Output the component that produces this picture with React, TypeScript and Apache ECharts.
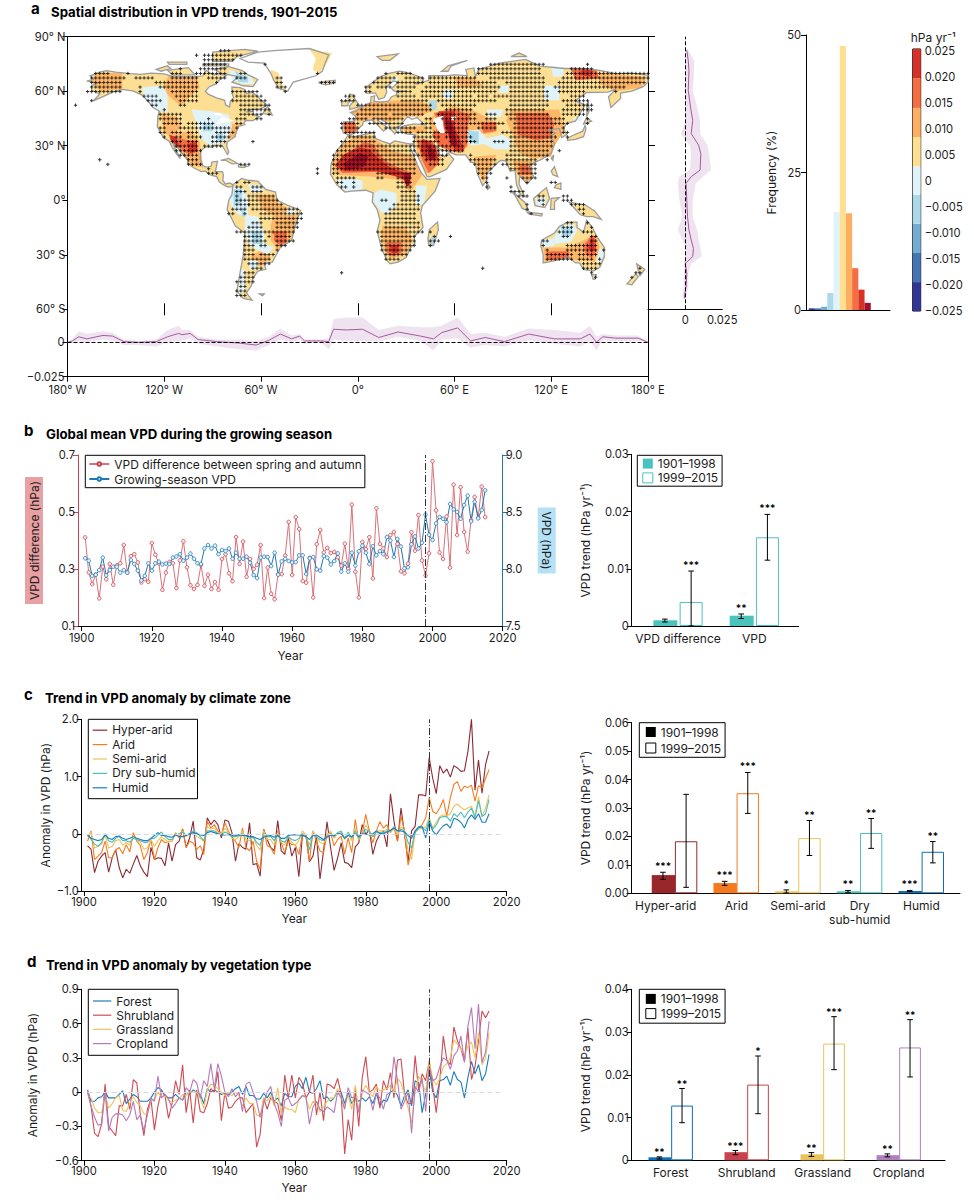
import React, { useEffect, useRef } from "react";
import * as echarts from "echarts";

const F = "Inter, 'Noto Sans', sans-serif";
const INK = "#1c1c1c";
const M = "\u2212";

/* ---------- panel b ---------- */
const vpdDifference = [
  0.411,0.288,0.247,0.28,0.197,0.308,0.264,0.318,0.245,0.313,
  0.32,0.384,0.287,0.345,0.352,0.323,0.253,0.264,0.255,0.391,
  0.35,0.32,0.227,0.287,0.325,0.32,0.233,0.33,0.397,0.306,
  0.243,0.23,0.244,0.314,0.241,0.28,0.23,0.254,0.227,0.335,
  0.352,0.285,0.257,0.412,0.318,0.396,0.273,0.335,0.3,0.315,
  0.384,0.198,0.305,0.213,0.194,0.282,0.282,0.347,0.465,0.279,
  0.482,0.44,0.258,0.252,0.339,0.2,0.387,0.437,0.358,0.374,
  0.356,0.36,0.341,0.312,0.389,0.3,0.526,0.29,0.2,0.395,
  0.37,0.412,0.267,0.513,0.388,0.372,0.342,0.419,0.43,0.388,
  0.292,0.285,0.319,0.429,0.364,0.489,0.33,0.277,0.355,0.678,
  0.506,0.358,0.335,0.484,0.305,0.596,0.419,0.587,0.43,0.361,
  0.472,0.553,0.48,0.589,0.482,
];
const growingSeasonVpd = [
  8.094,8.073,7.94,7.95,7.99,8.1,7.944,7.99,8.02,8.02,
  7.968,7.99,7.968,8.08,8.044,7.985,7.9,7.94,8.05,7.985,
  8.05,8.064,8.04,8.047,8.044,8.1,8.11,8.13,8.073,8.1,
  8.135,8.09,8.05,8.044,8.18,8.21,8.18,8.205,8.13,8.167,
  8.157,8.18,8.09,8.143,8.09,8.09,8.108,8.055,7.947,7.92,
  8.1,8.108,8.105,8.026,8.143,7.95,8.067,8.09,8.07,8.058,
  8.06,8.12,8.12,7.956,8.094,8.105,7.997,7.985,8.114,8.1,
  8.04,8.07,8.137,7.977,8.05,7.977,8.143,8.03,8.155,8.205,
  8.143,8.044,8.2,8.12,8.157,8.13,8.28,8.25,8.105,8.263,
  8.196,8.006,8.015,8.216,8.286,8.18,8.23,8.477,8.3,8.254,
  8.4,8.456,8.44,8.41,8.57,8.523,8.5,8.44,8.56,8.643,
  8.418,8.59,8.444,8.518,8.69,
];

/* ---------- panel c ---------- */
const hyperArid = [
  -0.21,-0.27,-0.68,-0.48,-0.39,-0.33,-0.67,-0.42,-0.28,-0.59,
  -0.77,-0.62,-0.69,-0.53,-0.38,-0.56,-0.67,-0.75,-0.24,-0.45,
  -0.42,-0.43,-0.56,-0.16,-0.48,-0.19,-0.13,0.08,-0.24,-0.07,
  0.22,-0.42,-0.46,-0.27,0.28,0.16,0.24,0.16,-0.07,0.24,
  0.22,0.02,-0.48,-0.17,-0.24,-0.27,0.19,-0.54,-0.52,-0.74,
  0.08,-0.1,-0.24,-0.3,0.23,-0.3,-0.36,-0.07,-0.39,-0.24,
  -0.75,-0.04,-0.01,-0.49,-0.39,-0.04,-0.79,-0.3,0.21,-0.24,
  -0.64,-0.42,-0.16,-0.5,-0.52,-0.59,-0.23,-0.16,0.16,-0.01,
  0.08,-0.36,-0.13,-0.01,0.05,-0.23,0.7,0.22,-0.13,0.45,
  -0.01,-0.48,0.05,0.13,0.68,0.68,0.66,1.33,0.97,0.7,
  1.19,1.06,1.13,0.99,1.19,1.15,1.09,1.1,1.44,2.0,
  0.76,1.29,0.71,1.21,1.45,
];
const arid = [
  -0.13,0.05,-0.45,-0.39,-0.33,-0.13,-0.42,-0.42,-0.28,-0.24,
  -0.35,-0.19,-0.32,0.02,-0.13,-0.21,-0.45,-0.33,-0.1,-0.45,
  -0.24,-0.1,-0.16,-0.13,-0.13,0.02,-0.07,0.09,-0.24,-0.13,
  -0.16,-0.27,-0.21,-0.36,0.22,0.1,0.16,0.05,-0.01,0.19,
  0.05,-0.07,-0.13,-0.24,0.1,-0.24,-0.3,-0.13,-0.48,-0.62,
  0.08,-0.21,-0.24,-0.36,0.05,-0.16,-0.33,-0.13,-0.19,-0.19,
  -0.36,-0.01,-0.04,-0.48,0.05,-0.13,-0.3,-0.33,-0.01,0.02,
  -0.21,-0.1,-0.04,-0.36,-0.07,-0.33,0.25,-0.13,0.02,0.34,
  0.05,-0.16,0.05,0.21,0.1,0.16,0.02,0.1,-0.13,0.31,
  0.05,-0.55,-0.3,0.05,0.1,0.16,0.28,0.63,0.39,0.35,
  0.45,0.6,0.31,0.63,0.86,0.91,0.74,0.83,0.81,0.85,
  0.57,0.84,0.8,0.97,1.12,
];
const semiArid = [
  -0.05,0.03,-0.25,-0.22,-0.18,-0.02,-0.25,-0.22,-0.12,-0.1,
  -0.2,-0.15,-0.2,-0.03,-0.1,-0.15,-0.27,-0.25,-0.1,-0.22,
  -0.12,-0.05,-0.1,-0.15,-0.12,0,-0.03,0.05,-0.05,0,
  0.02,-0.05,-0.08,-0.13,0.12,0.08,0.1,0.02,0,0.1,
  0.02,-0.08,-0.1,-0.05,0.05,-0.1,-0.12,-0.05,-0.2,-0.28,
  0.05,-0.1,-0.1,-0.2,0.02,-0.15,-0.2,-0.05,-0.15,-0.2,
  -0.12,0.05,-0.02,-0.2,0.05,-0.05,-0.15,-0.18,-0.05,0.05,
  -0.08,0,0.03,-0.1,0,-0.12,0.1,-0.1,0.02,0.15,
  0.05,-0.05,0.05,0.05,0.05,0.08,0.03,0.1,-0.02,0.12,
  0.05,-0.3,-0.45,0.03,0.08,0.1,0.12,0.28,0.1,0.2,
  0.3,0.33,0.32,0.35,0.48,0.52,0.46,0.42,0.45,0.48,
  0.3,0.65,0.3,0.45,0.68,
];
const drySubHumid = [
  -0.02,-0.1,-0.18,-0.22,-0.15,0,-0.12,-0.15,-0.08,-0.05,
  -0.12,-0.12,-0.15,-0.08,-0.1,-0.12,-0.15,-0.15,-0.08,-0.08,
  -0.02,0.03,-0.05,-0.1,-0.1,-0.02,0,0.03,-0.02,0,
  0.05,0.02,-0.05,-0.12,0.05,0.05,0.05,0,-0.02,0.03,
  0,-0.05,-0.05,-0.03,0,-0.05,-0.08,-0.05,-0.15,-0.2,
  0,-0.05,-0.05,-0.12,-0.02,-0.12,-0.15,-0.05,-0.1,-0.12,
  -0.08,0,-0.02,-0.28,-0.02,-0.05,-0.1,-0.12,-0.05,0,
  -0.05,0.02,0.05,-0.08,0.03,-0.08,0.05,-0.08,0,0.08,
  0.03,-0.05,0.03,0.02,0.02,0.05,0.05,0.12,0.05,0.08,
  0.05,-0.15,-0.25,0.02,0.1,0.12,0.05,0.25,0.08,0.15,
  0.28,0.3,0.3,0.22,0.35,0.3,0.38,0.28,0.38,0.45,
  0.28,0.58,0.3,0.35,0.6,
];
const humid = [
  -0.02,-0.08,-0.1,-0.12,-0.1,-0.02,-0.08,-0.1,-0.05,-0.04,
  -0.08,-0.1,-0.08,-0.05,-0.08,-0.1,-0.12,-0.12,-0.08,-0.03,
  0.02,-0.03,-0.03,-0.05,-0.06,-0.02,-0.05,-0.05,-0.03,0,
  0.02,0,-0.02,-0.03,0.02,0.04,0.02,0,-0.02,-0.02,
  -0.01,-0.02,-0.03,-0.02,-0.03,-0.03,-0.05,-0.05,-0.08,-0.1,
  -0.06,-0.04,-0.03,-0.06,-0.03,-0.08,-0.08,-0.03,-0.02,-0.02,
  -0.02,-0.03,-0.05,-0.1,-0.03,-0.02,-0.06,-0.1,-0.06,-0.02,
  -0.03,0,0,-0.08,-0.03,-0.05,0,-0.05,0,0,
  -0.02,0,0.05,0,0,0.03,0.06,0.1,0.05,0.05,
  0.03,-0.03,-0.08,0.05,0.12,0.12,-0.07,0.2,0.05,-0.02,
  0.07,0.14,0.17,0.1,0.27,0.25,0.2,0.1,0.25,0.33,
  0.25,0.35,0.2,0.2,0.35,
];

/* ---------- panel d ---------- */
const forest = [
  0.02,-0.08,-0.08,-0.05,-0.04,0,-0.05,-0.05,-0.05,-0.02,
  0.01,-0.1,-0.06,-0.02,-0.04,-0.08,-0.08,-0.08,-0.05,0,
  0.04,0.02,-0.03,-0.05,-0.05,-0.02,-0.05,-0.07,0,-0.02,
  0.02,0,-0.02,-0.1,0.03,0,0.02,0,-0.02,0,
  -0.02,0,0.03,0.05,-0.02,0.05,-0.03,-0.03,-0.06,-0.06,
  -0.01,-0.05,0,-0.08,-0.05,-0.12,-0.01,-0.04,-0.04,0.05,
  0.08,0.03,0.13,0,-0.01,0.03,0.1,-0.06,-0.04,-0.08,
  -0.05,0.01,0,-0.1,0,-0.1,-0.05,-0.08,-0.05,-0.08,
  -0.04,-0.1,-0.01,-0.12,-0.07,-0.08,0,0.02,-0.03,-0.12,
  -0.03,0.02,-0.12,0.1,0.08,-0.18,-0.02,0.2,0,-0.05,
  0.1,0.11,0.14,0.06,0.18,0.11,0.09,-0.05,0.13,0.27,
  0.16,0.24,0.1,0.16,0.33,
];
const shrubland = [
  0,-0.12,-0.36,-0.39,-0.28,0.07,-0.3,-0.34,-0.38,-0.12,
  -0.12,-0.02,-0.15,0.11,0.08,-0.2,-0.38,-0.15,-0.06,-0.33,
  -0.12,0.01,-0.03,-0.23,-0.1,0.1,-0.02,0.24,-0.18,0.02,
  -0.27,0.02,-0.17,-0.18,-0.1,0.03,0,0.18,-0.25,0,
  -0.14,-0.13,-0.08,-0.05,-0.05,-0.18,-0.14,-0.1,-0.48,-0.37,
  -0.05,-0.15,-0.05,-0.08,-0.1,-0.25,0.15,-0.05,0.15,-0.05,
  0.13,0.08,-0.05,0,0.15,-0.2,0,-0.25,0.07,0.06,
  0.03,0.12,-0.02,-0.54,-0.24,-0.42,0.03,-0.3,0.13,0.31,
  0,0.02,0.07,-0.14,0.1,0.02,0.17,-0.05,0.28,0.29,
  -0.02,-0.1,-0.1,0.32,0.02,0.16,0.1,0.27,0.05,-0.18,
  0.1,0.49,0.28,0.24,0.57,0.45,0.38,0.27,0.56,0.11,
  0.22,0.45,0.71,0.65,0.71,
];
const grassland = [
  -0.03,-0.05,-0.14,-0.18,-0.18,-0.02,-0.14,-0.1,-0.05,-0.03,
  -0.16,-0.17,-0.1,-0.04,-0.09,-0.12,-0.19,-0.19,-0.08,-0.06,
  0,-0.04,-0.03,-0.07,-0.09,-0.07,-0.06,-0.02,-0.03,0,
  0,0,-0.05,-0.14,0.02,0.07,0.06,0.03,0,-0.03,
  0,-0.03,0,-0.03,-0.12,-0.05,-0.1,-0.1,-0.2,-0.21,
  -0.05,-0.08,-0.03,-0.12,0.04,-0.2,-0.13,-0.15,-0.15,-0.18,
  -0.06,-0.03,-0.05,-0.15,-0.08,-0.1,-0.17,-0.13,-0.08,-0.05,
  -0.05,0.03,-0.05,-0.12,-0.03,-0.15,0.06,-0.15,0,0.06,
  0,-0.04,0.05,0.01,0.02,0.03,0.06,0,0.12,0.08,
  -0.03,-0.14,-0.27,0,0.14,0.08,0,0.27,0.12,0.06,
  0.12,0.22,0.25,0.3,0.46,0.42,0.38,0.32,0.4,0.44,
  0.3,0.52,0.24,0.3,0.52,
];
const cropland = [
  0.02,-0.12,-0.22,-0.29,-0.28,0,-0.34,-0.22,-0.19,-0.19,
  -0.2,-0.25,-0.2,-0.08,-0.24,-0.2,-0.34,-0.2,-0.05,-0.08,
  0.14,-0.05,-0.02,-0.06,-0.14,-0.1,-0.05,-0.07,0.04,0,
  0.11,0.08,-0.05,0.1,0.05,0.25,0.03,0.25,0.14,0,
  -0.04,0.03,-0.04,0,-0.17,0.07,0.09,0,-0.08,-0.22,
  -0.1,0,0.05,-0.1,-0.18,-0.3,-0.07,-0.05,-0.12,-0.1,
  -0.07,-0.03,-0.04,-0.28,-0.13,-0.08,-0.15,-0.17,-0.13,-0.15,
  -0.18,0,-0.05,-0.15,0.04,-0.05,-0.04,-0.18,0.02,0,
  -0.02,-0.16,-0.01,-0.05,-0.15,-0.02,0,0.31,0.1,-0.15,
  -0.08,0,-0.36,0.05,0,0.12,-0.17,0.22,0.1,0.12,
  0.22,0.3,0.28,0.2,0.32,0.36,0.49,0.26,0.58,0.74,
  0.38,0.77,0.26,0.35,0.62,
];

/* ---------- bar panels: group, [early, late] value / low / high / stars ---------- */
const trendB = {
  names: ["VPD difference", "VPD"],
  early: [0.001, 0.0018], earlyLo: [0.0007, 0.0013], earlyHi: [0.0012, 0.0021], earlyStars: ["", "**"],
  late: [0.0042, 0.0155], lateLo: [0, 0.0115], lateHi: [0.0096, 0.0195], lateStars: ["***", "***"],
};
const trendC = {
  names: ["Hyper-arid", "Arid", "Semi-arid", "Dry\nsub-humid", "Humid"],
  early: [0.0064, 0.0036, 0.0007, 0.0007, 0.0008],
  earlyLo: [0.0049, 0.0028, 0.0001, 0.0002, 0.0006],
  earlyHi: [0.0074, 0.0042, 0.0012, 0.001, 0.001],
  earlyStars: ["***", "***", "*", "**", "***"],
  late: [0.0183, 0.0352, 0.0194, 0.0212, 0.0146],
  lateLo: [0.0021, 0.0281, 0.0133, 0.0158, 0.0107],
  lateHi: [0.0348, 0.0425, 0.0256, 0.0263, 0.0182],
  lateStars: ["", "***", "**", "**", "**"],
};
const trendD = {
  names: ["Forest", "Shrubland", "Grassland", "Cropland"],
  early: [0.0007, 0.0019, 0.0014, 0.0012],
  earlyLo: [0.0003, 0.0013, 0.0009, 0.0008],
  earlyHi: [0.0008, 0.0023, 0.0018, 0.0015],
  earlyStars: ["**", "***", "**", "**"],
  late: [0.0128, 0.0177, 0.0273, 0.0264],
  lateLo: [0.0088, 0.0109, 0.0212, 0.0195],
  lateHi: [0.0168, 0.0244, 0.0336, 0.0329],
  lateStars: ["**", "*", "***", "**"],
};
const zoneColours = ["#98272b", "#f47a20", "#e9c25b", "#4cbfb9", "#0f6fb5"];
const vegColours = ["#0f6fb5", "#c9434e", "#e9c25b", "#b07fbc"];

/* ---------- histogram and colour bar ---------- */
const histFrequency = [0.3, 0.3, 0.6, 3.1, 17.8, 48, 17.6, 7.6, 3.7, 1.3];
const histColours = ["#313695", "#4575b4", "#74add1", "#abd9e9", "#e0f3f8", "#fee090", "#fdae61", "#f46d43", "#d73027", "#a50f26"];
const barColours = ["#313695", "#4575b4", "#74add1", "#abd9e9", "#e0f3f8", "#fee090", "#fdae61", "#f46d43", "#d73027"];
const barEdges = [-0.02506, -0.0195, -0.0139, -0.0083, -0.0027, 0.0028, 0.0084, 0.014, 0.0197, 0.02533];
const barTicks = [-0.025, -0.02, -0.015, -0.01, -0.005, 0, 0.005, 0.01, 0.015, 0.02, 0.025];

/* ---------- zonal profiles ---------- */
const lonAxis = [-180,-177,-173,-168,-158,-152,-145,-136,-125,-118,-111,-109,-104,-99,-87,-74,-63,-55,-48,-41,-36,-33,-23,-18,-15,-7,3,13,25,39,47,52,62,70,79,91,106,122,138,144,148,152,160,174,180];
const lonMean = [0,0.001,0.004,0.0025,0.005,0.0045,0.0005,0,0.0005,0.004,0.0065,0.0055,0.0065,0.002,0.0005,-0.0005,-0.002,0.0015,0.006,0.0025,0.0045,0.001,0.001,0.0005,0.0095,0.009,0.0095,0.0035,0.0075,0.0045,0.0025,0.007,0.0105,0.001,0.0035,0.0005,0.006,0.0025,0.0025,0.006,0,0.004,0.003,0.003,0];
const lonLow = [0,-0.0005,0.001,0,0.002,0.001,-0.002,-0.002,-0.003,0,0.001,0.001,0.003,-0.001,-0.003,-0.005,-0.006,-0.002,0.002,0,0.002,-0.001,0,-0.005,0.002,0.001,0.001,0.0005,0.004,0.001,-0.006,0.002,0.003,-0.004,-0.002,-0.003,0.0015,-0.001,-0.003,0.001,-0.006,0.0015,0.001,0.001,0];
const lonHigh = [0,0.002,0.008,0.006,0.008,0.007,0.002,0.001,0.002,0.009,0.012,0.009,0.009,0.004,0.002,0.002,0.001,0.004,0.01,0.005,0.006,0.002,0.002,0.003,0.017,0.018,0.018,0.009,0.012,0.011,0.011,0.012,0.018,0.006,0.007,0.004,0.01,0.009,0.007,0.012,0.004,0.006,0.005,0.005,0];
const latAxis = [82.7,76.8,71.3,60.4,51.3,44,36.7,30.3,25.7,16.6,13,9.3,0.1,-9,-16.4,-21.9,-26.5,-31,-34.8,-40.2,-47.6,-52,-54];
const latMean = [0.001,0.002,0.0025,0.002,0.0035,0.005,0.004,0.009,0.0105,0.01,0.004,0.0005,0.001,0.0015,0.0025,0.004,0.0055,0.005,0,0.001,0.0005,-0.0005,-0.0005];
const latLow = [0.0005,0,0,-0.0005,0,0.0005,-0.003,0.003,0.004,0.003,-0.004,-0.005,-0.004,-0.002,-0.005,-0.002,0.0005,0,-0.001,-0.001,-0.001,-0.002,-0.002];
const latHigh = [0.002,0.006,0.006,0.005,0.008,0.01,0.01,0.015,0.016,0.0175,0.012,0.007,0.005,0.005,0.008,0.009,0.0105,0.011,0.004,0.002,0.002,0.001,0];

/* ---------- map geometry, lon/lat ---------- */
type P = number[][];
const landOutlines: P[] = [
  [[-168,65.5],[-164,66.5],[-166,68.5],[-160,70.5],[-156,71.3],[-150,70.5],[-141,69.7],[-135,69.3],[-128,70],[-120,69.5],[-115,68],[-108,68],[-100,68],[-96,68.5],[-94,71.5],[-90,69],[-85,69.5],[-81.5,68.5],[-86,66],[-88,64],[-92,62.5],[-94.5,60],[-93,58.5],[-88,56.5],[-82.5,55],[-82,52.5],[-79.5,51.3],[-79,54.5],[-77,56.5],[-78,58.7],[-78,62.3],[-73,62],[-70,61],[-69,58.7],[-65.5,59.5],[-62,57],[-60,55],[-56,52.3],[-60,50.3],[-66,50],[-69,48.5],[-65,49],[-64.5,47],[-61,46],[-65,43.8],[-69,44],[-70.7,42.5],[-70,41.6],[-74,40.6],[-75.5,37.5],[-76,35],[-78,33.8],[-81,32],[-81.3,30],[-80,26.5],[-80.8,25.2],[-82.5,27.8],[-84,30],[-89,30.2],[-90,29],[-94,29.5],[-97.3,27.5],[-97.7,22.5],[-96,19],[-94,18.2],[-91,18.7],[-90.5,21],[-87,21.5],[-88,17],[-88.5,15.8],[-84,15.8],[-83.3,14],[-83.7,11],[-82,9],[-79.5,9.5],[-77.3,8.5],[-78,7.5],[-80.5,7.3],[-83,8.3],[-85.8,10],[-87.5,13],[-91.5,14],[-94.5,16],[-97,15.8],[-102,18],[-105.5,20.3],[-105.5,22.5],[-109,26],[-112.7,30],[-114.7,31.5],[-113,28],[-110,23],[-112,25],[-115,29],[-117,32.5],[-120.5,34.5],[-122.5,37.5],[-124.3,40.5],[-124,46],[-123,49],[-127,51],[-130,54.5],[-134,58],[-139,60],[-146,61],[-152,59.5],[-158,57],[-164,54.7],[-160,58.5],[-165,60.5],[-165,63],[-161,64.5]],
  [[-80,73.5],[-72,71.5],[-68,69],[-62,66.5],[-65,62.5],[-71,63],[-78,65],[-74,68],[-85,70],[-89,72]],
  [[-90,76.5],[-78,76.5],[-75,79],[-62,82],[-70,83],[-90,81.5]],
  [[-118,71.5],[-105,73],[-101,69],[-115,69]],
  [[-125,72],[-118,74],[-116,72.5],[-122,71]],
  [[-96,75],[-80,75],[-80,74],[-96,74]],
  [[-118,76],[-106,76],[-106,74.8],[-117,74.8]],
  [[-59,47.7],[-56,51.5],[-53,47]],
  [[-85,22],[-80,23],[-74.5,20.2],[-78,20],[-82,22]],
  [[-74,19.8],[-68.5,18.7],[-71,18],[-74,18.3]],
  [[-9,37],[-9.5,39],[-9,43],[-2,43.5],[-1,46],[-4.5,48.3],[-1.5,48.8],[1.5,50.5],[4,52],[8,53.8],[8.3,57],[10.5,57.5],[10,54.5],[14,54],[19,54.5],[21,57],[24,58],[24,59.5],[30,60],[22.5,60],[21,61.5],[25,65],[22,65.7],[17.5,62],[18,59.5],[16.5,56.5],[13,55.5],[11,59],[5.5,59],[5,62],[14,68],[20,70],[26,71],[32,70],[41,67],[40,64.8],[35,64.3],[37,64],[44,66],[44,68.5],[54,68.5],[60,69],[68,68.5],[67,72],[72,72.8],[73,68],[75,72],[81,73.5],[88,75.5],[104,77.5],[113,73.8],[128,72.5],[140,72.5],[150,71.5],[160,69.7],[170,70],[180,68.8],[180,65],[177,62.5],[170,60],[163,59],[163,56],[157,51],[155.5,57],[160,61],[155,59.5],[142,59.3],[135,54.7],[141,52.5],[135,43.5],[130,42.5],[127.5,39.8],[129.5,36],[126.5,34.5],[125,39.5],[121,39],[118,39],[122.5,37],[119.5,35],[122,31],[120,26],[114,22.5],[110,21],[106,19],[109,13],[105,9],[103,11],[100.5,13.5],[100,9],[103.5,2],[101,3],[98.5,8.5],[97.5,16.5],[94.5,16],[92,21.5],[89,22],[86.5,20.5],[82,16.5],[80,15],[80,11],[77.5,8],[74,15],[73,20.5],[70,21],[67,25],[61,25],[57,26.5],[56.5,27],[51,28],[48.5,30],[51,25],[54,24],[56,26],[59.5,22.5],[55,17],[45,13],[43,13],[39,21],[35,28],[34.5,31.5],[36,36],[30,36.5],[26.5,38],[26.5,40],[29,41],[35,42],[41.5,41.5],[38,44.5],[37,45.5],[33.5,44.5],[31,46],[28,43],[26,40.8],[23,40],[24,38],[23,36.5],[20.5,39],[19,42],[14,45],[12.5,44],[18.5,40],[16,38],[11,42.5],[8.5,44.3],[3.5,43.3],[3,41.5],[0,39],[-2,36.8],[-5.5,36]],
  [[-6,35.8],[-2,35],[10,37.3],[11,34],[15,32.5],[20,31],[23,32.7],[32,31],[34.5,31],[32.5,29.5],[35,24],[37.5,18.5],[39.5,15],[43,11.5],[51,12],[48,5],[40,-3],[39,-7],[40.5,-15],[35,-20],[35.5,-24],[32.8,-26],[30,-31.5],[25,-34],[20,-35],[18,-33],[15,-27],[12,-17],[13.8,-11],[12,-5],[9,-1],[9.5,4],[5,5.5],[-4,5],[-8,4.5],[-13,8.5],[-17,14.5],[-16.5,20],[-13,27.5],[-9.5,31]],
  [[-77.5,8.5],[-72,12],[-68,11],[-62,10.5],[-57,6],[-51,4.5],[-50,0],[-44,-2.5],[-35.5,-5.5],[-39,-15],[-41,-22],[-48,-26],[-53,-34],[-58,-34.5],[-57,-38],[-62,-39],[-65,-43],[-66,-47],[-69,-51],[-65.5,-55],[-71,-54],[-75,-50],[-73,-40],[-71,-30],[-70,-18],[-76,-14],[-81,-5],[-80,0],[-78,3]],
  [[114,-22],[122,-18],[125,-14.5],[130,-12],[136,-12],[136,-15],[140,-17.5],[142,-11],[145.5,-15],[149,-21],[153,-26],[153,-31],[150,-37],[146,-39],[140,-38],[137.5,-34.5],[135,-34.5],[131,-31.5],[124,-33],[115,-34.5],[115,-30],[113.5,-25]],
  [[145,-41],[148,-41],[147,-43.5],[146,-43.5]],
  [[173,-35],[178,-38],[175,-41.5],[174,-39]],
  [[172.5,-40.5],[174,-42],[170,-46.5],[167,-46],[170,-43]],
  [[49.5,-12],[50,-16],[47,-25],[44,-25],[43.5,-21],[44.5,-16]],
  [[-5,50],[1.5,51.5],[0,53.5],[-2,56],[-2,57.7],[-5,58.5],[-6,56],[-3,54],[-5,52]],
  [[-10,52],[-6,52],[-6,55],[-10,54]],
  [[-24,65],[-14,66],[-14,64.5],[-20,63.5],[-24,64.5]],
  [[130,33],[135,33.5],[140,35],[141.5,39],[141,41.2],[139.5,38],[133,35.5],[130,34]],
  [[140,42],[145,43.5],[142,45.5]],
  [[142,46],[143.5,49],[143,54],[142,53]],
  [[120,23],[121.5,25],[121,22]],
  [[120,16],[122,18.5],[124,13],[121,14]],
  [[122,7],[126,6],[126,9.5],[123,8.5]],
  [[95,5.5],[104,-1.5],[106,-6],[102,-4.5],[98,2]],
  [[105,-6.5],[114.5,-7.5],[114,-8.7],[106,-7.5]],
  [[109,1],[117,7],[119,1],[116,-4],[110,-3]],
  [[119.5,-5],[120,1],[125,1.5],[122,-1],[122,-5]],
  [[131,-1],[141,-2.5],[147,-6],[151,-10.5],[146,-9],[142,-9],[138,-8],[134,-4]],
  [[80,9.5],[82,7],[80.5,6]],
  [[12,79],[25,80.5],[20,77],[15,77]],
  [[52,71],[56,74],[68,77],[58,74],[56,71]],
  [[95,79],[105,79],[100,81]],
  [[-61,-51.5],[-58,-51.5],[-59,-52.5]],
];
const greenlandOutline: P = [[-73,78],[-68,76],[-58,75.5],[-54,70],[-52,66],[-49,61.5],[-43.5,60],[-40,65],[-26,68.5],[-22,71],[-20,76],[-18,80],[-30,83.5],[-50,82.5],[-62,81.5]];
const waterBodies: P[] = [
  [[28,41.5],[35,42],[41,41.5],[41,43],[37.5,44.5],[37,46],[33,46],[31,46],[28,43.5]],
  [[47,45],[53,46.5],[53,41],[54,37],[50,37],[49,40],[47,43]],
  [[58,46],[61,46],[60,44],[58,44]],
  [[33,28],[35,28],[39,21],[43,13],[42,13],[37,19],[35,24]],
  [[-92,48],[-85,48],[-84,46],[-88,42],[-86,42],[-80,43],[-76,44],[-79,44.5],[-83,46],[-88,47]],
];
const yellowZones: P[] = [
  [[-54,72],[-49,70],[-47,64],[-44,60],[-49,61.5],[-53,66]],
  [[-30,83],[-16,81],[-20,74],[-24,70],[-28,72],[-26,78]],
];
const orangeZones: P[] = [
  [[-163,70],[-146,70],[-146,61],[-160,60],[-165,65]],
  [[-117,69],[-100,68],[-98,62],[-105,56],[-110,52],[-118,58],[-120,64]],
  [[-122,47],[-112,46],[-110,40],[-115,35],[-120,37]],
  [[-116,37],[-103,38],[-98,32],[-97,26],[-96,18],[-103,19],[-108,24],[-113,30],[-116,33]],
  [[-78,42],[-73,42],[-76,35],[-80,34]],
  [[-62,3],[-52,3],[-50,-1],[-40,-6],[-52,-8],[-60,-5]],
  [[-52,-8],[-38,-8],[-39,-17],[-42,-22],[-50,-27],[-54,-22],[-54,-14]],
  [[-66,-30],[-58,-27],[-54,-32],[-60,-36],[-66,-36]],
  [[15,-14],[30,-15],[34,-22],[30,-30],[20,-32],[16,-27]],
  [[115,-26],[130,-26],[140,-22],[148,-19],[150,-26],[147,-34],[138,-33],[124,-32],[116,-34]],
  [[-4,49],[8,54],[24,55],[40,54],[48,50],[38,46],[28,46],[20,43],[12,45],[5,44],[0,43.5]],
  [[60,68],[72,67],[78,63],[62,62]],
  [[150,70],[178,68],[176,62],[160,60],[150,64]],
  [[44,45],[58,52],[70,50],[84,44],[84,37],[72,36],[64,28],[56,28],[50,32],[46,38]],
  [[95,50],[125,50],[128,38],[122,30],[120,24],[108,23],[100,26],[97,34],[92,44]],
  [[72,24],[86,25],[82,17],[78,10],[75,16]],
  [[96,22],[108,22],[109,13],[105,10],[100,13],[98,16]],
  [[27,40],[42,41],[42,37],[30,37]],
  [[-9.4,31.3],[1.3,35.9],[12,33],[20,27.7],[36,24],[40,14],[32.3,3.8],[27,11],[9.4,13],[-13.4,14],[-16,20.3]],
  [[36,34],[46,33],[49,29],[52,23],[45,15],[42,15],[37,25]],
];
const paleZones: P[] = [
  [[-134,62],[-122,63],[-118,58],[-118,48],[-125,50],[-132,56]],
  [[-103,50],[-90,49],[-80,47],[-78,40],[-82,32],[-92,30],[-97,34],[-100,42]],
  [[-80,72],[-66,68],[-64,64],[-72,64],[-78,66]],
  [[-80,2],[-76,8],[-70,6],[-68,0],[-68,-9],[-74,-8],[-78,-4]],
  [[-70,-8],[-62,-9],[-58,-18],[-58,-24],[-52,-26],[-56,-30],[-63,-27],[-68,-24],[-70,-16]],
  [[-44,-5],[-38,-5],[-40,-8],[-44,-8]],
  [[-68,9],[-60,8],[-58,5],[-66,4]],
  [[-73,-38],[-70,-38],[-70,-50],[-74,-52]],
  [[-68,-33],[-62,-33],[-62,-38],[-67,-38]],
  [[9,3],[14,6],[24,4],[24,-3],[18,-8],[14,-6],[10,-1]],
  [[-13,11],[-6,12],[3,11],[3,6],[-6,5],[-10,6]],
  [[36,8],[43,8],[41,-2],[36,-3]],
  [[122,-20],[126,-14],[134,-13],[136,-17],[132,-23],[122,-24]],
  [[114,-22],[122,-21],[122,-25],[115,-26]],
  [[150,-26],[153,-28],[151,-34],[148,-34]],
  [[110,1],[117,2],[116,-3],[111,-3]],
  [[66,38],[75,39],[80,34],[90,36],[95,33],[94,28],[85,28],[78,31],[70,30]],
  [[87,63],[94,63],[93,59],[88,59]],
  [[115,63],[125,63],[125,55],[116,55]],
  [[120,74],[128,73],[127,68],[121,68]],
  [[80,50],[90,50],[89,46],[81,46]],
  [[21,68],[25,68],[25,65],[22,65]],
  [[53,61],[59,61],[59,56],[53,56]],
  [[133,45],[140,47],[138,43]],
];
const blueZones: P[] = [
  [[-96,42],[-90,42],[-90,38],[-96,38]],
  [[-88,36],[-84,38],[-83,33],[-87,32]],
  [[-76,71],[-68,68],[-68,65],[-74,65]],
  [[-77,6],[-72,6],[-72,-3],[-77,-3]],
  [[-72,-4],[-70,-4],[-70,-9],[-72,-9]],
  [[-66,-17],[-60,-17],[-59,-24],[-65,-24]],
  [[126,-15],[133,-15],[132,-20],[127,-20]],
  [[68,38],[75,38],[75,31],[69,32]],
  [[44,55],[49,55],[49,50],[45,50]],
  [[45,-21],[47.5,-19],[47,-25],[45,-25]],
];
const deepZones: P[] = [
  [[-116,35],[-110,34],[-105,33],[-100,33],[-99,27],[-104,25],[-108,27],[-112,30]],
  [[-52,-17],[-44,-17],[-44,-23],[-48,-25],[-52,-22]],
  [[18,-23],[27,-23],[27,-29],[22,-31],[18,-29]],
  [[117,-28],[131,-28],[131,-32],[124,-32.5],[117,-33]],
  [[140,-25],[145,-19],[147,-20],[148,-28],[145,-32],[141,-29]],
  [[132,73],[148,72],[150,67],[135,66]],
  [[100,20],[107,20],[107,14],[101,14]],
  [[47,48],[60,50],[70,47],[68,40],[68,30],[64,26],[58,27],[50,30],[46,36],[50,40],[50,44]],
  [[98,48],[118,48],[122,42],[120,34],[110,33],[99,36]],
  [[76,43],[86,43],[86,38],[78,37]],
  [[-9,43],[-2,43],[0,39],[-3,37],[-8,37]],
  [[37,33],[46,33],[50,27],[50,20],[44,15],[40,22]],
  [[-6.7,25.8],[4,32],[9.4,31],[14.8,24],[20,20],[33.6,15],[31,7.5],[27,13],[12,15.7],[-9.4,15],[-14.7,19.4]],
];
const redZones: P[] = [
  [[-117,36],[-113,35],[-110,29],[-113,29],[-116,33]],
  [[-106,31],[-100,32],[-99.5,27],[-104,26]],
  [[20,-25],[25,-25],[25,-29],[21,-29]],
  [[144.5,-21],[146.5,-21],[147,-27],[145,-29],[143,-26]],
  [[140,73],[146,71],[145,68],[137,69]],
  [[50,49],[60,49],[60,40],[66,28],[60,27],[58,34],[54,40]],
  [[40.3,34],[48.4,29.5],[49.7,22],[43,22],[39,27.6]],
  [[-9,25],[1,29],[7,28],[13,23],[20,18],[33,14],[31,8],[28,12],[12,16],[-8,16],[-14,19]],
];
const crimsonZones: P[] = [
  [[-9.4,20],[1.3,26],[6.7,24],[4,18.5],[-6.7,16.6]],
  [[28,15],[33,15],[32,8],[30,8]],
  [[43,31],[47,27.6],[48.4,22],[44,23]],
  [[54,44],[58,44],[62,30],[58,30]],
];

/* significance stippling: latitude, then runs of longitude from/to */
const stippleRuns: number[][] = [
  [82.3,-85,-80],
  [79.8,-100,-100,-95,-72],
  [77.3,-96,-78],
  [74.8,-96,-82,-57.5,-57.5,82,115,142,142],
  [72.3,-110,-110,-97,-82,75,113,133,144],
  [69.8,-163,-155,-142,-142,-115,-111,-99,-82,-72,-70,-26,-26,17,17,26,32,75,113,129,179],
  [67.3,-165,-145,-137,-127,-115,-100,-92,-82,-75,-70,-51,-48,13,22,29,40,45,73,82,115,127,179],
  [64.8,-165,-147,-124,-100,-87,-87,-51,-47,-22,-16,11,19,24,40,45,86,92,115,125,177],
  [62.3,-165,-148,-136,-136,-122,-99,-49,-45,5,8,13,20,24,36,42,88,94,115,123,166],
  [59.8,-167,-148,-135,-135,-115,-101,-78,-62,-45,-45,5,8,26,32,40,86,94,117,125,140,160,160],
  [57.3,-132,-124,-113,-101,-76,-60,-7,-3,26,36,40,69,74,80,86,117,133,139],
  [54.8,-165,-165,-130,-122,-111,-101,-77,-57,-9,-3,28,42,51,69,72,84,94,117,127,142],
  [52.3,-175,-175,-128,-124,-111,-107,-73,-55,1,20,22,44,52,73,94,117,129,144],
  [49.8,-121,-121,-72,-55,3,20,22,44,54,71,92,115,127,144],
  [47.3,-122,-111,-73,-60,-55,-55,1,18,22,40,51,73,80,84,92,117,127,139],
  [44.8,-122,-111,-93,-93,-76,-70,-62,-60,-5,5,9,28,42,46,53,73,80,84,96,127,142,142],
  [42.3,-119,-111,-105,-101,-97,-91,-75,-72,-9,0,8,28,40,47,54,80,82,90,98,129,142,142],
  [39.8,-122,-119,-110,-108,-105,-101,-97,-90,-88,-80,-76,-76,-9,-1,18,34,42,44,54,67,76,86,98,121,127,127],
  [37.3,-122,-119,-115,-109,-105,-101,-88,-80,-78,-78,-8,-1,3,9,26,32,38,49,55,67,90,121,127,131],
  [34.8,-119,-119,-113,-109,-105,-101,-97,-97,-90,-80,-5,9,36,49,55,69,94,123,130,130],
  [32.3,-115,-109,-106,-99,-90,-82,-65,-65,-9,11,34,51,57,69,71,73,86,90,94,119],
  [29.8,-113,-99,-95,-84,-11,32,36,53,55,65,96,121],
  [27.3,-112,-97,-13,36,40,55,57,65,96,117,125,125],
  [24.8,-110,-99,-15,34,38,55,70,70,92,117],
  [22.3,-161,-161,-106,-99,-15,34,42,53,70,86,92,111,117,117],
  [19.8,-156,-156,-104,-97,-72,-68,-15,36,45,53,72,84,90,109],
  [17.3,-93,-93,-25.5,-25.5,-15,7,11,36,75,82,95,109],
  [14.8,-92,-88,-25.5,-25.5,-15,-13,13,34,75,82,100,109],
  [12.3,-13,-3,13,16,25,32,78,80,92,92,102,109],
  [9.8,-76,-76,-70,-67,-12,-9,-2,-2,25,32,80,80,105,105,120,122],
  [7.3,-76,-73,-66,-59,-11,-7,-3,-3,24,32,80,80,95,95],
  [4.8,-76,-73,-70,-70,-65,-61,27,36,96,102],
  [2.3,-76,-76,-68,-52,27,38,100,104,112,115,127,131],
  [0,-76,-73,-70,-70,-68,-51,15,18,28,38,112,115,127,133],
  [-2.4,-76,-68,-67,-48,22,38,106,106,115,115,132,141],
  [-4.9,-78,-76,-73,-69,-66,-38,20,38,105,105,137,141],
  [-7.4,-79,-77,-70,-70,-60,-35,18,36,107,107,140,140],
  [-10,-61,-36,17,36],
  [-12.4,-66,-60,-49,-37,17,37,130,133,143,143],
  [-14.9,-68,-59,-51,-38,17,37,127,132,146,146],
  [-17.4,-75,-71,-68,-56,-52,-40,13,40,45,45,125,133,141,146],
  [-19.9,-69,-59,-56,-56,-51,-42,14,36,47,47,57,57,127,131,145,148],
  [-22.4,-69,-67,-64,-58,-51,-41,14,36,45,49,115,117,145,148],
  [-24.9,-70,-64,-61,-57,-49,-44,15,34,46,46,115,115,130,148],
  [-27.4,-70,-65,-50,-49,15,32,117,117,130,148,152,152],
  [-29.9,-70,-65,-59,-52,17,30,117,133,137,147],
  [-32.4,-70,-70,-67,-55,18,26,117,132,137,146,150,150],
  [-34.9,-67,-54,139,150],
  [-37.4,-66,-61,78,78,139,148,176,176],
  [-39.9,-70,-65,-10,-10,146,146,173,175],
  [-42.4,-73,-66,147,147,171,171],
  [-44.9,-74,-66],
  [-47.4,-73,-69],
  [-49.9,-74,-69],
  [-52.4,-75,-70],
];

const pageTitles = [
  { text: "a", x: 31, y: 1, size: 15 },
  { text: "Spatial distribution in VPD trends, 1901\u20132015", x: 51, y: 5, size: 13.2 },
  { text: "b", x: 24, y: 423, size: 15 },
  { text: "Global mean VPD during the growing season", x: 46, y: 427, size: 13.2 },
  { text: "c", x: 24, y: 687, size: 15 },
  { text: "Trend in VPD anomaly by climate zone", x: 45, y: 691, size: 13.2 },
  { text: "d", x: 27, y: 954, size: 15 },
  { text: "Trend in VPD anomaly by vegetation type", x: 46, y: 958, size: 13.2 },
];

const YEARS_TICKS = [1900, 1920, 1940, 1960, 1980, 2000, 2020];
const yearly = (v: number[]) => v.map((y, i) => [1901 + i, y]);
const lonNames: Record<string, string> = { "-180": "180\u00b0 W", "-120": "120\u00b0 W", "-60": "60\u00b0 W", "0": "0\u00b0", "60": "60\u00b0 E", "120": "120\u00b0 E", "180": "180\u00b0 E" };
const latNames: Record<string, string> = { "90": "90\u00b0 N", "60": "60\u00b0 N", "30": "30\u00b0 N", "0": "0\u00b0", "-30": "30\u00b0 S", "-60": "60\u00b0 S" };

function buildOption() {
  const grid: any[] = [], xAxis: any[] = [], yAxis: any[] = [], series: any[] = [], legend: any[] = [];
  const addGrid = (l: number, t: number, r: number, b: number, extra: any = {}) => {
    grid.push({ left: l, top: t, width: r - l, height: b - t, ...extra });
    return grid.length - 1;
  };
  const line = (c = "#000") => ({ show: true, onZero: false, lineStyle: { color: c, width: 1 } });
  const label = (extra: any = {}) => ({ color: INK, fontFamily: F, fontSize: 11.2, margin: 5, ...extra });
  const tick = (c = "#000", length = 5) => ({ show: true, length, lineStyle: { color: c, width: 1 } });
  const addX = (o: any) => { xAxis.push({ type: "value", splitLine: { show: false }, axisLine: line(), axisTick: { show: false }, axisLabel: { show: false }, ...o }); return xAxis.length - 1; };
  const addY = (o: any) => { yAxis.push({ type: "value", splitLine: { show: false }, axisLine: line(), axisTick: tick(), axisLabel: label(), ...o }); return yAxis.length - 1; };
  const nameStyle = { color: INK, fontFamily: F, fontSize: 12 };

  /* ---- map ---- */
  const gMap = addGrid(67.5, 36.7, 648, 309.3);
  const xMap = addX({ gridIndex: gMap, position: "top", min: -180, max: 180, axisLine: line() });
  addX({ gridIndex: gMap, position: "bottom", min: -180, max: 180, interval: 60, offset: -6, axisLine: { show: false, onZero: false },
    axisTick: { show: true, length: 12, lineStyle: { color: "#000", width: 1 } } });
  const yMap = addY({ gridIndex: gMap, position: "left", min: -60, max: 90, interval: 30,
    axisLabel: label({ formatter: (v: number) => latNames[String(v)] ?? "", margin: 2 }) });

  const layers: { fill: string; stroke?: string; pts: P }[] = [];
  landOutlines.forEach((pts) => layers.push({ fill: "#fddf94", pts }));
  yellowZones.forEach((pts) => layers.push({ fill: "#fddf94", pts }));
  orangeZones.forEach((pts) => layers.push({ fill: "#fdb668", pts }));
  paleZones.forEach((pts) => layers.push({ fill: "#e0f3f8", pts }));
  blueZones.forEach((pts) => layers.push({ fill: "#abd9e9", pts }));
  deepZones.forEach((pts) => layers.push({ fill: "#f46d43", pts }));
  redZones.forEach((pts) => layers.push({ fill: "#d73027", pts }));
  crimsonZones.forEach((pts) => layers.push({ fill: "#a50f26", pts }));
  waterBodies.forEach((pts) => layers.push({ fill: "#ffffff", pts }));
  landOutlines.forEach((pts) => layers.push({ fill: "none", stroke: "#9c9c9c", pts }));
  layers.push({ fill: "none", stroke: "#9c9c9c", pts: greenlandOutline });
  series.push({
    type: "custom", name: "Land", xAxisIndex: xMap, yAxisIndex: yMap, silent: true, clip: true,
    data: layers.map((_, i) => [i]),
    renderItem: (p: any, api: any) => {
      const l = layers[p.dataIndex];
      return { type: "polygon", shape: { points: l.pts.map((q) => api.coord(q)) },
        style: { fill: l.fill, stroke: l.stroke ?? "none", lineWidth: l.stroke ? 1.3 : 0 } };
    },
  });
  const stipple: number[][] = [];
  stippleRuns.forEach((row) => {
    for (let i = 1; i < row.length; i += 2) {
      const a = Math.round(row[i] / 2.5), b = Math.round(row[i + 1] / 2.5);
      for (let k = a; k <= b; k++) stipple.push([k * 2.5, row[0]]);
    }
  });
  series.push({ type: "scatter", name: "Significant trend", xAxisIndex: xMap, yAxisIndex: yMap, silent: true,
    symbol: "path://M3.5 0h3v3.5h3.5v3H6.5V10h-3V6.5H0v-3h3.5z", symbolSize: 3.3, itemStyle: { color: "#000" }, data: stipple });

  /* ---- longitude strip ---- */
  const gLon = addGrid(67.5, 309.3, 648, 376.7);
  const xLon = addX({ gridIndex: gLon, position: "bottom", min: -180, max: 180, interval: 60,
    axisTick: tick(), axisLabel: { ...label({ margin: 8 }), show: true, formatter: (v: number) => lonNames[String(v)] ?? "" } });
  const yLon = addY({ gridIndex: gLon, position: "left", min: -0.025, max: 0.024,
    axisTick: { ...tick(), customValues: [-0.025, 0] },
    axisLabel: label({ customValues: [-0.025, 0], formatter: (v: number) => (v === 0 ? "0" : `${M}0.025`), margin: 3 }) });
  addY({ gridIndex: gLon, position: "right", min: -0.025, max: 0.024, axisTick: { show: false }, axisLabel: { show: false } });
  const band = (pts: number[][], x: number, y: number, name: string) => ({
    type: "custom", name, xAxisIndex: x, yAxisIndex: y, silent: true, clip: true, data: [[0]],
    renderItem: (_: any, api: any) => ({ type: "polygon", shape: { points: pts.map((q) => api.coord(q)) }, style: { fill: "#efe3ef" } }),
  });
  series.push(band([...lonAxis.map((l, i) => [l, lonHigh[i]]), ...lonAxis.map((l, i) => [l, lonLow[i]]).reverse()], xLon, yLon, "Longitude range"));
  series.push({ type: "line", name: "Longitude mean", xAxisIndex: xLon, yAxisIndex: yLon, silent: true, showSymbol: false,
    lineStyle: { color: "#a45aa0", width: 1 }, data: lonAxis.map((l, i) => [l, lonMean[i]]),
    markLine: { silent: true, symbol: "none", label: { show: false }, lineStyle: { color: "#000", type: [4, 2], width: 1 }, data: [{ yAxis: 0 }] } });

  /* ---- latitude strip ---- */
  const gLat = addGrid(648, 36.7, 722.3, 309.3);
  const xLat = addX({ gridIndex: gLat, position: "bottom", min: -0.0252, max: 0.025,
    axisLabel: { ...label(), show: true, customValues: [0, 0.025], formatter: (v: number) => (v === 0 ? "0" : "0.025") } });
  const yLat = addY({ gridIndex: gLat, position: "left", min: -60, max: 90, interval: 30,
    axisTick: { show: true, inside: true, length: 7, lineStyle: { color: "#000", width: 1 } }, axisLabel: { show: false } });
  series.push(band([...latAxis.map((l, i) => [latHigh[i], l]), ...latAxis.map((l, i) => [latLow[i], l]).reverse()], xLat, yLat, "Latitude range"));
  series.push({ type: "line", name: "Latitude mean", xAxisIndex: xLat, yAxisIndex: yLat, silent: true, showSymbol: false,
    lineStyle: { color: "#a45aa0", width: 1 }, data: latAxis.map((l, i) => [latMean[i], l]),
    markLine: { silent: true, symbol: "none", label: { show: false }, lineStyle: { color: "#000", type: [4, 2], width: 1 }, data: [{ xAxis: 0 }] } });

  /* ---- histogram ---- */
  const gHist = addGrid(806, 35, 890, 310);
  const xHist = addX({ gridIndex: gHist, position: "bottom", min: -0.935, max: 12.6 });
  const yHist = addY({ gridIndex: gHist, min: 0, max: 50, interval: 25, name: "Frequency (%)", nameLocation: "middle", nameGap: 29, nameTextStyle: nameStyle });
  series.push({ type: "bar", name: "Frequency", xAxisIndex: xHist, yAxisIndex: yHist, barWidth: 6.2, silent: true,
    data: histFrequency.map((v, i) => ({ value: [i, v], itemStyle: { color: histColours[i] } })) });

  /* ---- colour bar ---- */
  const gBar = addGrid(912.7, 49, 920.7, 311, { show: true, borderColor: "#000", borderWidth: 1, backgroundColor: "transparent" });
  const xBar = addX({ gridIndex: gBar, min: 0, max: 1, axisLine: { show: false, onZero: false } });
  const yBar = addY({ gridIndex: gBar, position: "right", min: barEdges[0], max: barEdges[9], axisLine: { show: false }, axisTick: { show: false },
    name: "hPa yr\u207b\u00b9", nameLocation: "end", nameGap: 6, nameRotate: 0, nameTextStyle: { ...nameStyle, align: "right", padding: [0, -43, 0, 0] },
    axisLabel: label({ customValues: barTicks, margin: 4, formatter: (v: number) => (v === 0 ? "0" : (v < 0 ? M : "") + Math.abs(v).toFixed(3)) }) });
  series.push({ type: "custom", name: "Colour scale", xAxisIndex: xBar, yAxisIndex: yBar, silent: true,
    data: barColours.map((_, i) => [i]),
    renderItem: (p: any, api: any) => {
      const i = p.dataIndex;
      const a = api.coord([0, barEdges[i]]), b = api.coord([1, barEdges[i + 1]]);
      return { type: "rect", shape: { x: a[0], y: b[1], width: b[0] - a[0], height: a[1] - b[1] }, style: { fill: barColours[i] } };
    } });

  /* ---- line panels ---- */
  const yearAxis = (g: number, min: number, max = 2020, gap = 22, margin = 5) => addX({ gridIndex: g, position: "bottom", min, max,
    axisLine: line(), axisTick: { ...tick(), customValues: YEARS_TICKS },
    axisLabel: { ...label({ margin }), show: true, customValues: YEARS_TICKS, formatter: (v: number) => String(v) },
    name: "Year", nameLocation: "middle", nameGap: gap, nameTextStyle: nameStyle });
  const cut98 = { xAxis: 1998, lineStyle: { color: "#333", type: [7, 2, 1, 2], width: 1 } };
  const zeroLine = (x0 = 1901, x1 = 2019) => [{ coord: [x0, 0], lineStyle: { color: "#d6d8e6", type: [5, 3], width: 1 } }, { coord: [x1, 0] }];

  /* b */
  const gB = addGrid(78, 455, 502.7, 626);
  const xB = yearAxis(gB, 1898.95, 2020, 23, 6.5);
  const yB = addY({ gridIndex: gB, position: "left", min: 0.1, max: 0.7, interval: 0.2, axisLine: line("#c9434e"), axisTick: tick("#c9434e"),
    axisLabel: label({ formatter: (v: number) => v.toFixed(1), margin: 3 }),
    name: "VPD difference (hPa)", nameLocation: "middle", nameGap: 35,
    nameTextStyle: { ...nameStyle, backgroundColor: "#e9a0a2", padding: [3, 4, 3, 4] } });
  const yB2 = addY({ gridIndex: gB, position: "right", min: 7.5, max: 9, interval: 0.5, axisLine: line("#1f78b4"), axisTick: tick("#1f78b4"),
    axisLabel: label({ formatter: (v: number) => v.toFixed(1), margin: 3 }),
    name: "VPD (hPa)", nameLocation: "middle", nameGap: 35, nameRotate: -90,
    nameTextStyle: { ...nameStyle, backgroundColor: "#b5e1f6", padding: [3, 4, 3, 4] } });
  series.push({ type: "line", name: "VPD difference between spring and autumn", xAxisIndex: xB, yAxisIndex: yB, silent: true,
    symbol: "circle", symbolSize: 3.6, itemStyle: { color: "#fbe8e8", borderColor: "#c9434e", borderWidth: 0.8 }, lineStyle: { color: "#d9727a", width: 1 }, data: yearly(vpdDifference),
    markLine: { silent: true, symbol: "none", label: { show: false }, data: [cut98] } });
  series.push({ type: "line", name: "Growing-season VPD", xAxisIndex: xB, yAxisIndex: yB2, silent: true,
    symbol: "circle", symbolSize: 3.6, itemStyle: { color: "#e6f3fb", borderColor: "#1f78b4", borderWidth: 0.8 }, lineStyle: { color: "#1f78b4", width: 1 }, data: yearly(growingSeasonVpd) });
  const box = { orient: "vertical", selectedMode: false, borderColor: "#000", borderWidth: 1, backgroundColor: "#fff", textStyle: { color: INK, fontFamily: F, fontSize: 12 } };
  legend.push({ ...box, left: 85.3, top: 455.3, itemWidth: 20, itemHeight: 4.5, itemGap: 3, padding: [2.7, 3, 2.7, 3],
    data: ["VPD difference between spring and autumn", "Growing-season VPD"] });

  /* c */
  const gC = addGrid(81.7, 719.3, 506.7, 891);
  const xC = yearAxis(gC, 1899.35, 2020, 21);
  const yC = addY({ gridIndex: gC, position: "left", min: -1, max: 2, interval: 1,
    axisLabel: label({ formatter: (v: number) => (v === 0 ? "0" : v < 0 ? `${M}1.0` : v.toFixed(1)), margin: 3 }),
    name: "Anomaly in VPD (hPa)", nameLocation: "middle", nameGap: 30, nameTextStyle: nameStyle });
  const climate: [string, number[], string][] = [
    ["Hyper-arid", hyperArid, "#8b2a34"], ["Arid", arid, "#f47c20"], ["Semi-arid", semiArid, "#eec35c"], ["Dry sub-humid", drySubHumid, "#4cbfb9"], ["Humid", humid, "#1a7dbd"],
  ];
  climate.forEach(([name, v, c], i) => series.push({ type: "line", name, xAxisIndex: xC, yAxisIndex: yC, silent: true, showSymbol: false, symbol: "none",
    lineStyle: { color: c, width: 1.1 }, itemStyle: { color: c }, data: yearly(v),
    ...(i === 0 ? { markLine: { silent: true, symbol: "none", label: { show: false }, data: [cut98, zeroLine()] } } : {}) }));
  legend.push({ ...box, textStyle: { ...box.textStyle, fontSize: 11.8 }, left: 88.3, top: 719.3, icon: "rect", itemWidth: 14.5, itemHeight: 1.2, itemGap: 2.4, padding: [4.9, 2, 4.9, 4.4], data: climate.map((c) => c[0]) });

  /* d */
  const gD = addGrid(81.7, 989.3, 506.7, 1160.7);
  const xD = yearAxis(gD, 1899.35, 2020, 21);
  const yD = addY({ gridIndex: gD, position: "left", min: -0.6, max: 0.9, interval: 0.3,
    axisLabel: label({ formatter: (v: number) => (Math.abs(v) < 1e-9 ? "0" : (v < 0 ? M : "") + Math.abs(v).toFixed(1)), margin: 3 }),
    name: "Anomaly in VPD (hPa)", nameLocation: "middle", nameGap: 43, nameTextStyle: nameStyle });
  const veg: [string, number[], string][] = [
    ["Forest", forest, "#1a7dbd"], ["Shrubland", shrubland, "#cf4a53"], ["Grassland", grassland, "#eec35c"], ["Cropland", cropland, "#b47ab8"],
  ];
  veg.forEach(([name, v, c], i) => series.push({ type: "line", name, xAxisIndex: xD, yAxisIndex: yD, silent: true, showSymbol: false, symbol: "none",
    lineStyle: { color: c, width: 1.1 }, itemStyle: { color: c }, data: yearly(v),
    ...(i === 0 ? { markLine: { silent: true, symbol: "none", label: { show: false }, data: [cut98, zeroLine()] } } : {}) }));
  legend.push({ ...box, left: 88.3, top: 989.3, icon: "rect", itemWidth: 18.3, itemHeight: 1.2, itemGap: 2.2, padding: [5.7, 4, 5.7, 4.7], data: veg.map((c) => c[0]) });

  /* ---- bar panels ---- */
  const barPanel = (t: typeof trendB, o: { top: number; bottom: number; right: number; ymax: number; step: number; digits: number; zeroLabel: string;
    min: number; max: number; off: [number, number]; w: number; colours: string[]; labels?: number[]; starGap: number; legend: any; gap: number }) => {
    const g = addGrid(631.7, o.top, o.right, o.bottom);
    const lv = o.labels ?? t.names.map((_, i) => i);
    const x = addX({ gridIndex: g, position: "bottom", min: o.min, max: o.max,
      axisLabel: { ...label({ fontSize: 12, margin: 5, lineHeight: 14 }), show: true, customValues: lv, formatter: (v: number) => t.names[lv.indexOf(v)] ?? "" } });
    const y = addY({ gridIndex: g, position: "left", min: 0, max: o.ymax, interval: o.step,
      axisLabel: label({ margin: 3, formatter: (v: number) => (v === 0 ? o.zeroLabel : v.toFixed(o.digits)) }),
      name: "VPD trend (hPa yr\u207b\u00b9)", nameLocation: "middle", nameGap: 40, nameTextStyle: nameStyle });
    series.push({ type: "bar", name: "1901\u20131998", xAxisIndex: x, yAxisIndex: y, barWidth: o.w, barGap: "-100%", silent: true,
      itemStyle: { color: o.colours[0] },
      data: t.early.map((v, i) => ({ value: [i + o.off[0], v], itemStyle: { color: o.colours[i] } })) });
    series.push({ type: "bar", name: "1999\u20132015", xAxisIndex: x, yAxisIndex: y, barWidth: o.w - 1, barGap: "-100%", silent: true,
      itemStyle: { color: "rgba(255,255,255,0)", borderColor: o.colours[0], borderWidth: 1 },
      data: t.late.map((v, i) => ({ value: [i + o.off[1], v], itemStyle: { color: "rgba(255,255,255,0)", borderColor: o.colours[i], borderWidth: 1 } })) });
    const errs: { x: number; lo: number; hi: number; s: string }[] = [];
    t.early.forEach((_, i) => errs.push({ x: i + o.off[0], lo: t.earlyLo[i], hi: t.earlyHi[i], s: t.earlyStars[i] }));
    t.late.forEach((_, i) => errs.push({ x: i + o.off[1], lo: t.lateLo[i], hi: t.lateHi[i], s: t.lateStars[i] }));
    series.push({ type: "custom", name: "Error bars", xAxisIndex: x, yAxisIndex: y, silent: true, z: 5, clip: false,
      data: errs.map((e) => [e.x, e.lo, e.hi]),
      renderItem: (p: any, api: any) => {
        const e = errs[p.dataIndex];
        const a = api.coord([e.x, e.lo]), b = api.coord([e.x, e.hi]);
        const st = { stroke: "#000", lineWidth: 1 };
        return { type: "group", children: [
          { type: "line", shape: { x1: a[0], y1: a[1], x2: b[0], y2: b[1] }, style: st },
          { type: "line", shape: { x1: a[0] - 2.8, y1: a[1], x2: a[0] + 2.8, y2: a[1] }, style: st },
          { type: "line", shape: { x1: b[0] - 2.8, y1: b[1], x2: b[0] + 2.8, y2: b[1] }, style: st },
          { type: "text", style: { text: e.s, x: b[0], y: b[1] - o.starGap, textAlign: "center", textVerticalAlign: "middle", fontFamily: F, fontSize: 10, fontWeight: 600, fill: "#000" } },
        ] };
      } });
    legend.push({ ...box, ...o.legend, itemWidth: 10, itemHeight: 10, itemGap: o.gap, selectedMode: false,
      data: [
        { name: "1901\u20131998", icon: "rect", itemStyle: { color: o.legend.colour, borderWidth: 0 } },
        { name: "1999\u20132015", icon: "rect", itemStyle: { color: "#fff", borderColor: o.legend.colour, borderWidth: 1 } },
      ] });
  };
  barPanel(trendB, { top: 454.3, bottom: 626, right: 798.7, ymax: 0.03, step: 0.01, digits: 2, zeroLabel: "0", min: -0.607, max: 1.582, off: [-0.172, 0.172], w: 24, colours: ["#4bc3bd", "#4bc3bd"], starGap: 6, gap: 2.3,
    legend: { left: 637.3, top: 455.3, padding: [2.3, 4, 2.3, 5], colour: "#4bc3bd" } });
  barPanel(trendC as any, { top: 722.7, bottom: 893.3, right: 960, ymax: 0.06, step: 0.01, digits: 2, zeroLabel: "0.00", min: -0.697, max: 4.626, off: [-0.19, 0.185], w: 23.4, colours: zoneColours, labels: [-0.146, 1, 2, 3, 4], starGap: 6, gap: 4,
    legend: { left: 639.3, top: 722.7, padding: [3.3, 4, 3.3, 6], colour: "#000" } });
  barPanel(trendD as any, { top: 989.3, bottom: 1160.3, right: 945, ymax: 0.04, step: 0.01, digits: 2, zeroLabel: "0", min: -0.513, max: 3.609, off: [-0.149, 0.149], w: 22.7, colours: vegColours, starGap: 4.5, gap: 2.7,
    legend: { left: 639.3, top: 989.3, padding: [3.6, 4, 3.6, 6], colour: "#000" } });

  return {
    animation: false,
    backgroundColor: "#fff",
    title: pageTitles.map((t) => ({ text: t.text, left: t.x, top: t.y, padding: 0,
      textStyle: { fontFamily: F, fontSize: t.size, fontWeight: 700, color: "#000" } })),
    grid, xAxis, yAxis, series, legend,
  };
}

export default function App() {
  const ref = useRef<HTMLDivElement>(null);
  useEffect(() => {
    document.body.style.margin = "0";
    const chart = echarts.init(ref.current!, undefined, { renderer: "svg" });
    chart.setOption(buildOption() as any);
    return () => chart.dispose();
  }, []);
  return <div ref={ref} style={{ position: "absolute", left: 0, top: 0, width: 974, height: 1202 }} />;
}
